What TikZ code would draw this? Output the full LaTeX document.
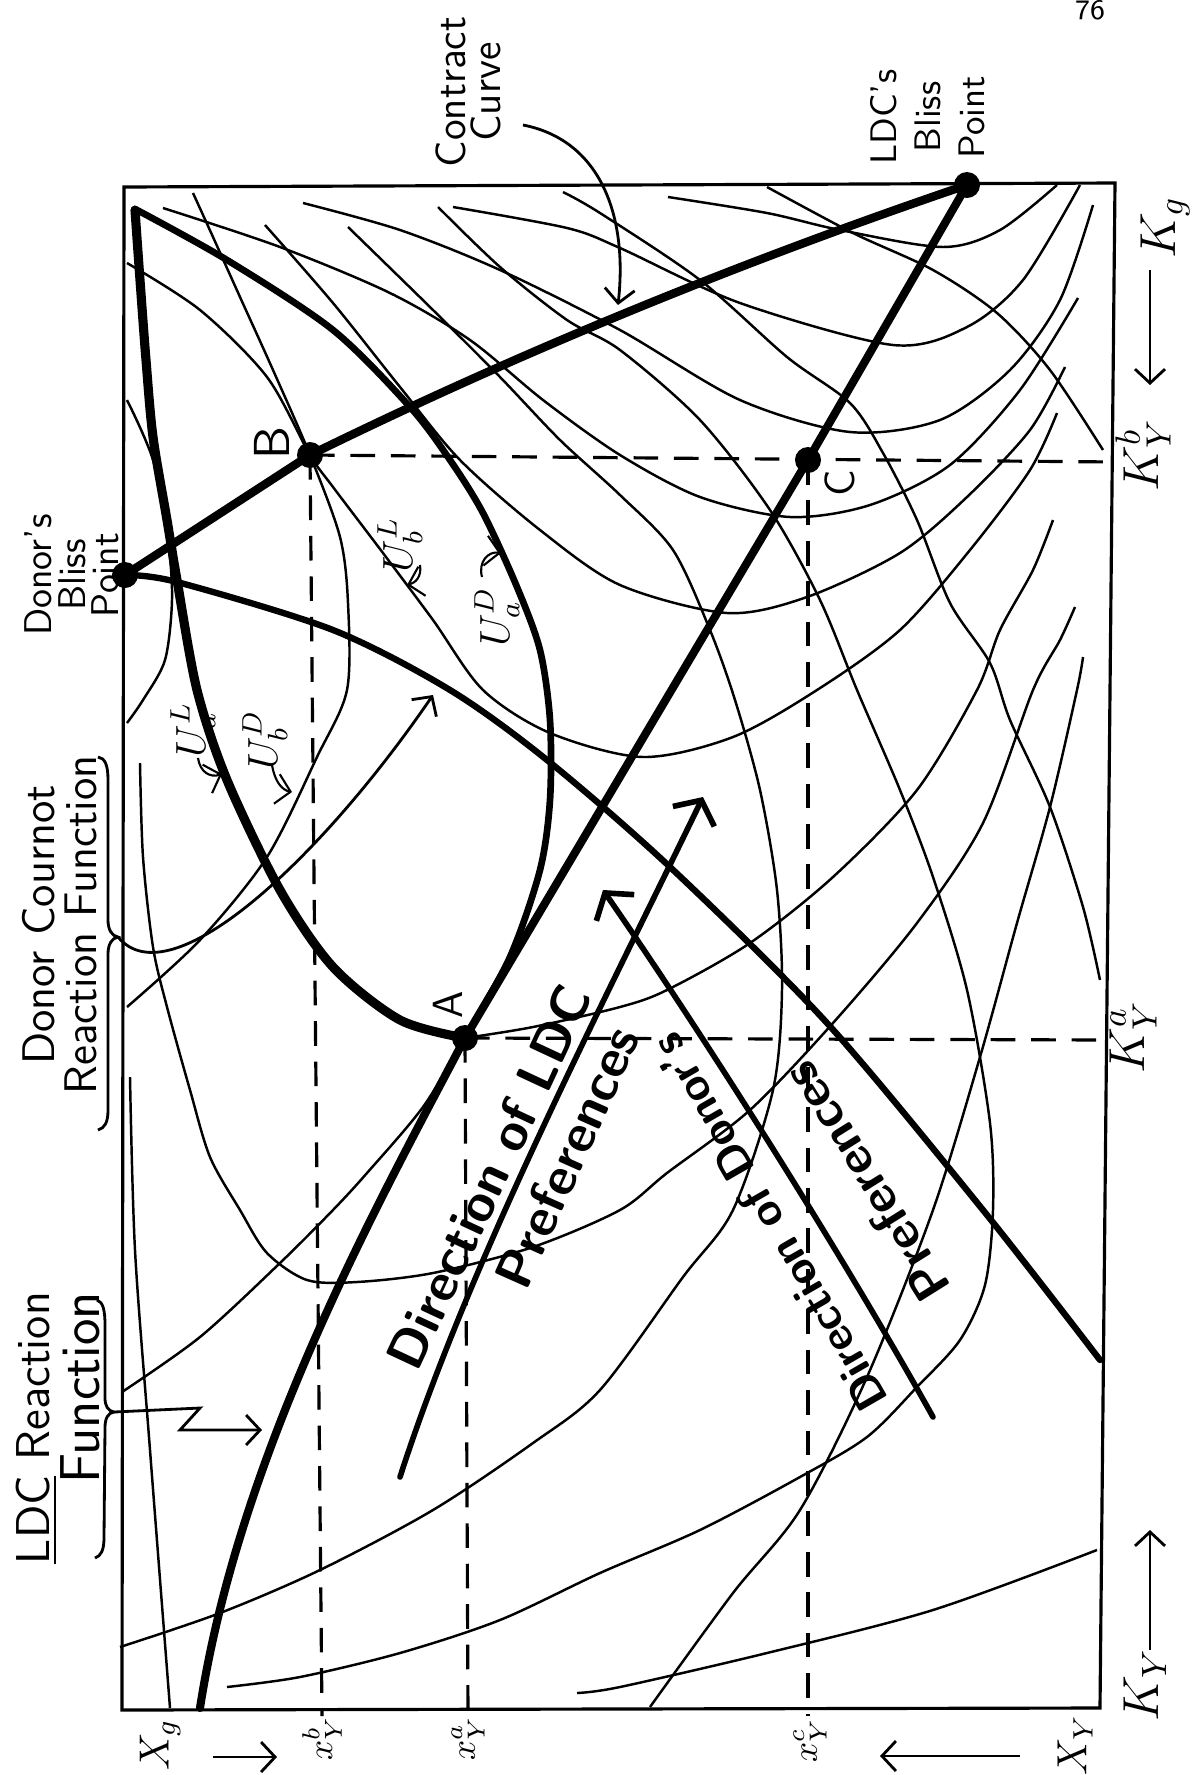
\documentclass[tikz,border=0pt]{standalone}
\usepackage{tikz}
\usetikzlibrary{arrows.meta}

\begin{document}
\begin{tikzpicture}[x=0.01cm, y=-0.01cm,
    box/.style={line width=0.9pt},
    heavy/.style={line width=2.2pt, line cap=round, line join=round},
    indiff/.style={line width=0.7pt},
    dashline/.style={line width=0.9pt, dash pattern=on 7pt off 4.5pt},
    lbl/.style={rotate=90, inner sep=0pt},
    dirarrow/.style={line width=1.6pt, line cap=round, -{Straight Barb[length=1.8mm, width=4.6mm]}},
    note/.style={line width=0.8pt, -{Straight Barb[length=1.4mm, width=3mm]}},
    dot/.style={circle, fill, inner sep=0pt, minimum size=0.26cm}
]
\useasboundingbox (0,0) rectangle (1203,1775);

% the box
\draw[box] (124,187) -- (1115,183) -- (1100,1708) -- (122,1710) -- cycle;

\coordinate (dbliss) at (125,575);
\coordinate (lbliss) at (967,185);
\coordinate (A) at (465,1038);
\coordinate (B) at (310,455);
\coordinate (C) at (808,460);

% LDC indifference curves
\draw[indiff] plot[smooth] coordinates {(668,197) (767,213) (840,230) (943,247) (1000,230) (1057,185)};
\draw[indiff] plot[smooth] coordinates {(453,207) (567,228) (620,248) (740,303) (893,345) (967,327) (1023,280) (1080,185)};
\draw[indiff] plot[smooth] coordinates {(303,203) (400,230) (500,270) (620,330) (740,400) (850,432) (940,420) (1010,370) (1060,300) (1093,205)};
\draw[indiff] plot[smooth] coordinates {(163,208) (280,247) (390,293) (470,340) (543,400) (620,455) (700,497) (790,517) (870,505) (950,465) (1020,390) (1078,298)};
\draw[indiff] plot[smooth] coordinates {(265,225) (333,303) (400,387) (460,460) (540,530) (620,585) (727,613) (807,597) (900,553) (967,497) (1030,430) (1065,367)};
\draw[indiff] plot[smooth] coordinates {(127,263) (200,310) (267,377) (310,455) (333,487) (383,553) (433,620) (483,690) (550,733) (643,757) (733,737) (817,690) (900,630) (970,550) (1030,470) (1057,413)};
\draw[indiff] plot[smooth] coordinates {(465,1038) (533,1027) (620,1007) (667,990) (750,943) (833,877) (917,790) (977,690) (1000,630) (1033,570) (1053,520)};
\draw[indiff] plot[smooth] coordinates {(140,763) (143,857) (153,947) (167,1007) (190,1090) (210,1157) (240,1210) (267,1253) (307,1280) (357,1282) (433,1273) (533,1247) (620,1210) (667,1173) (750,1110) (833,1023) (917,923) (983,823) (1033,690) (1060,640) (1075,607)};
\draw[indiff] plot[smooth] coordinates {(577,1693) (620,1687) (767,1653) (933,1610) (1097,1550)};
\draw[indiff] plot[smooth] coordinates {(650,1707) (733,1593) (800,1510) (867,1377) (933,1210) (980,1057) (1017,923) (1050,807) (1077,690) (1083,657)};
\draw[indiff] plot[smooth] coordinates {(130,1077) (135,1250) (150,1450) (170,1708)};

% donor indifference curves
\draw[indiff] plot[smooth] coordinates {(127,400) (153,460) (168,540) (172,600) (165,660) (143,700) (127,723)};
\draw[indiff] plot[smooth] coordinates {(193,193) (213,237) (240,297) (273,370) (310,455) (340,537) (348,603) (347,690) (317,757) (267,857) (200,940) (127,1007)};
\draw[indiff] plot[smooth] coordinates {(465,1038) (423,1107) (367,1173) (333,1210) (280,1263) (200,1337) (122,1392)};
\draw[indiff] plot[smooth] coordinates {(348,227) (433,310) (500,377) (560,440) (620,495) (673,550) (710,630) (735,700) (760,790) (777,890) (782,990) (773,1090) (733,1210) (683,1277) (600,1390) (533,1443) (433,1510) (320,1570) (220,1613) (120,1647)};
\draw[indiff] plot[smooth] coordinates {(438,207) (500,267) (567,320) (620,350) (700,420) (770,510) (820,600) (857,690) (900,790) (933,877) (967,990) (990,1123) (993,1210) (985,1285) (960,1340) (917,1387) (867,1437) (800,1477) (700,1530) (600,1573) (500,1620) (400,1653) (300,1677) (227,1687)};
\draw[indiff] plot[smooth] coordinates {(563,192) (600,213) (700,280) (787,357) (850,403) (883,453) (917,520) (950,603) (990,663) (1010,720) (1050,807) (1083,907) (1100,980)};
\draw[indiff] plot[smooth] coordinates {(767,187) (853,233) (933,270) (997,313) (1050,370) (1103,450)};

% lens through A
\draw[heavy, line width=1.9pt] plot[smooth] coordinates {(137,210) (227,260) (333,330) (410,407) (450,460) (483,513) (517,587) (540,650) (550,720) (550,800) (540,870) (510,957) (465,1038)};
\draw[heavy, line width=2.6pt] plot[smooth] coordinates {(135,210) (140,280) (146,360) (153,437) (167,520) (177,580) (197,690) (227,780) (280,890) (333,967) (400,1020) (465,1038)};

% reaction functions and contract curve
\draw[heavy, line width=1.8pt] plot[smooth] coordinates {(125,575) (177,582) (333,630) (450,690) (547,760) (670,867) (827,1023) (983,1210) (1100,1360)};
\draw[heavy, line width=2.3pt] (lbliss) -- (C) -- (A) .. controls (380,1200) and (240,1450) .. (200,1708);
\draw[heavy, line width=2.4pt] (dbliss) -- (B) .. controls (520,352) and (740,262) .. (lbliss);

% dashed guides
\coordinate (kb) at (1117,462);
\coordinate (ka) at (1108,1040);
\coordinate (xb) at (322,1716);
\coordinate (xa) at (468,1716);
\coordinate (xc) at (808,1716);
\draw[dashline] (B) -- (kb);
\draw[dashline] (B) -- (xb);
\draw[dashline] (A) -- (ka);
\draw[dashline] (A) -- (xa);
\draw[dashline] (C) -- (xc);

\foreach \p in {dbliss,lbliss,A,B,C}
    \node[dot] (\p-dot) at (\p) {};

% point labels
\node[lbl, font=\sffamily\Large] (labB) at (272,443) {B};
\node[lbl, font=\sffamily\large] (labC) at (840,483) {C};
\node[lbl, font=\sffamily\large] (labA) at (448,1005) {A};

\node[lbl, font=\large] (uaL) at (193,730) {$U_a^L$};
\draw[note, line width=0.6pt] (198,758) .. controls (200,772) and (210,778) .. (222,774);
\node[lbl, font=\large] (ubD) at (265,740) {$U_b^D$};
\draw[note, line width=0.6pt] (272,765) .. controls (275,782) and (282,790) .. (292,792);
\node[lbl, font=\large] (ubL) at (400,545) {$U_b^L$};
\draw[note, line width=0.6pt] (420,565) .. controls (422,577) and (415,583) .. (407,585);
\node[lbl, font=\large] (uaD) at (497,617) {$U_a^D$};
\draw[note, line width=0.6pt] (482,577) .. controls (478,562) and (488,551) .. (501,553);

% texts outside the box
\node[font=\sffamily\footnotesize] (page) at (1090,10) {76};
\node[lbl, align=center, font=\sffamily\fontsize{12}{10}\selectfont] (cc) at (468,92) {Contract\\Curve};
\draw[note] (523,125) .. controls (600,140) and (628,215) .. (618,305);
\node[lbl, align=center, font=\sffamily\fontsize{10.5}{12.5}\selectfont] (lbp) at (928,117) {LDC's\\Bliss\\Point};
\node[lbl, align=center, font=\sffamily\fontsize{11}{9.5}\selectfont] (dbp) at (72,575) {Donor's\\Bliss\\Point};

\node[lbl, align=center, font=\sffamily\fontsize{13}{12}\selectfont] (dcr) at (60,925) {Donor Cournot\\Reaction Function};
\draw[line width=0.8pt] (98,757) .. controls (105,758) and (108,765) .. (108,780) -- (108,920)
    .. controls (108,930) and (112,936) .. (118,937) .. controls (112,938) and (108,944) .. (108,954)
    -- (108,1110) .. controls (108,1122) and (105,1128) .. (98,1130);
\draw[note] (118,937) .. controls (170,1000) and (320,860) .. (433,695);

\node[lbl, align=right, font=\sffamily\fontsize{13.5}{12}\selectfont] (lcr) at (58,1428) {\underline{LDC} Reaction\\{\fontsize{16}{12}\selectfont Function}};
\draw[line width=0.8pt] (97,1300) .. controls (103,1302) and (105,1310) .. (105,1325) -- (105,1398)
    .. controls (105,1406) and (108,1411) .. (114,1412) .. controls (108,1413) and (105,1418) .. (105,1428)
    -- (104,1538) .. controls (104,1550) and (101,1556) .. (95,1558);
\draw[note] (114,1412) -- (200,1408) -- (180,1430) -- (262,1430);

% direction of preferences
\draw[dirarrow] (400,1477) .. controls (470,1260) and (600,1010) .. (703,797);
\node[rotate=65, font=\sffamily\bfseries\fontsize{15}{18}\selectfont] (dirL) at (489,1177) {Direction of LDC};
\node[rotate=66, font=\sffamily\bfseries\fontsize{15}{18}\selectfont] (prefL) at (567,1157) {Preferences};
\draw[dirarrow] (933,1417) .. controls (840,1250) and (700,1030) .. (603,890);
\node[rotate=120, font=\sffamily\bfseries\fontsize{13}{15}\selectfont] (dirD) at (769,1223) {Direction of Donor's};
\node[rotate=122, font=\sffamily\bfseries\fontsize{14.5}{15}\selectfont] (prefD) at (866,1182) {Preferences};

% axis labels
\node[lbl, font=\Large] (Kg) at (1165,228) {$K_g$};
\draw[note] (1150,270) -- (1150,385);
\node[lbl, font=\Large] (Kyb) at (1143,455) {$K_Y^b$};
\node[lbl, font=\Large] (Kya) at (1133,1037) {$K_Y^a$};
\node[lbl, font=\Large] (Ky) at (1145,1685) {$K_Y$};
\draw[note] (1150,1650) -- (1150,1530);
\node[lbl, font=\large] (Xg) at (160,1745) {$X_g$};
\draw[note] (213,1757) -- (277,1757);
\node[lbl] (xyb) at (322,1738) {$x_Y^b$};
\node[lbl] (xya) at (468,1738) {$x_Y^a$};
\node[lbl] (xyc) at (810,1740) {$x_Y^c$};
\node[lbl, font=\large] (Xy) at (1075,1745) {$X_Y$};
\draw[note] (1020,1756) -- (880,1756);
\end{tikzpicture}
\end{document}
